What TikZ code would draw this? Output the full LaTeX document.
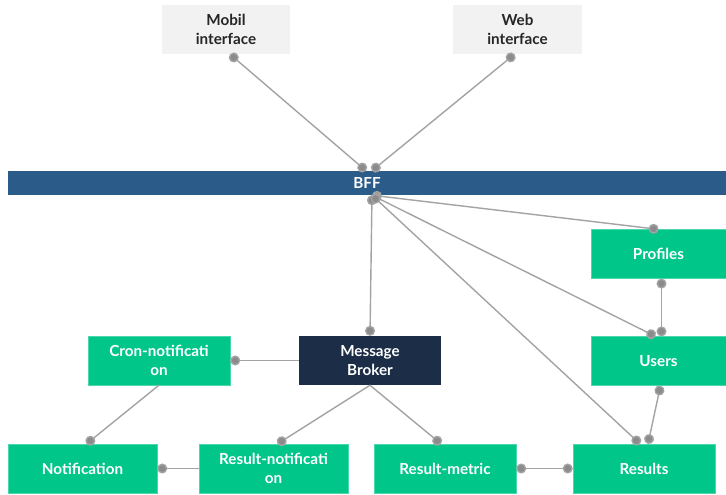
\documentclass[tikz,border=0pt]{standalone}
\usepackage{fontspec}
\setmainfont{Lato}
\usepackage{xcolor}
\usepackage{tikz}
\usetikzlibrary{positioning, calc, arrows.meta}

\definecolor{svcgreen}{HTML}{00C68A}
\definecolor{brokerblue}{HTML}{1C2E47}
\definecolor{bffblue}{HTML}{2B5B88}
\definecolor{uigray}{HTML}{F2F2F2}
\definecolor{linkgray}{HTML}{A3A3A3}

\begin{document}
\begin{tikzpicture}[x=0.03cm, y=-0.03cm,
    box/.style={rectangle, inner sep=2pt, align=center, font=\bfseries\fontsize{13}{16}\selectfont},
    client/.style={box, fill=uigray, text=black!85, minimum width=3.85cm, minimum height=1.47cm},
    service/.style={box, fill=svcgreen, draw=svcgreen!70!white, line width=0.5pt, text=white, minimum width=4.26cm, minimum height=1.46cm},
    link/.style={draw=linkgray, line width=1.2pt},
    linkdot/.tip={Circle[length=8.5pt, fill=linkgray!85!black]}]

    % Canvas
    \useasboundingbox (0,0) rectangle (726,494);

    % Front-end clients
    \node[client] (mobil) at (226,29.5) {Mobil\\interface};
    \node[client] (web) at (517.5,29.5) {Web\\interface};

    % Backend for frontend bar
    \node[box, fill=bffblue, text=white, minimum width=21.54cm, minimum height=0.72cm,
          font=\bfseries\fontsize{13}{15}\selectfont] (bff) at (367,183) {BFF};

    % Services on the right
    \node[service, minimum width=4.05cm] (profiles) at (658.5,254) {Profiles};
    \node[service, minimum width=4.05cm] (users) at (658.5,361) {Users};

    % Broker and middle row
    \node[box, fill=brokerblue, text=white, minimum width=4.26cm, minimum height=1.47cm] (broker) at (370,360.5) {Message\\Broker};
    \node[service] (cron) at (159,360.5) {Cron-notificati\\on};

    % Bottom row
    \node[service, minimum width=4.47cm] (notif) at (82.5,468.5) {Notification};
    \node[service, minimum width=4.47cm] (resnotif) at (273.5,468.5) {Result-notificati\\on};
    \node[service] (resmetric) at (445,468.5) {Result-metric};
    \node[service] (results) at (644,468.5) {Results};

    % Clients to BFF
    \draw[link, linkdot-linkdot] ($(mobil.south)+(4,0)$) -- ($(bff.north)+(-1,0)$);
    \draw[link, linkdot-linkdot] ($(web.south)+(-3,0)$) -- ($(bff.north)+(5,0)$);

    % BFF fan-out
    \draw[link, linkdot-linkdot] ($(bff.south)+(5,0)$) -- (broker.north);
    \draw[link, linkdot-linkdot] ($(bff.south)+(5,0)$) -- (profiles.north);
    \draw[link, linkdot-linkdot] ($(bff.south)+(5,0)$) -- ($(users.north)+(-3,0)$);
    \draw[link, linkdot-linkdot] ($(bff.south)+(5,0)$) -- ($(results.north)+(-4,0)$);

    % Right-hand chain
    \draw[link, linkdot-linkdot] ($(profiles.south)+(3,0)$) -- ($(users.north)+(3,0)$);
    \draw[link, linkdot-linkdot] ($(users.south)+(2,0)$) -- ($(results.north)+(4,0)$);

    % Broker consumers
    \draw[link, -linkdot] (broker.west) -- (cron.east);
    \draw[link, -linkdot] (broker.south) -- ($(resnotif.north)+(4,0)$);
    \draw[link, -linkdot] (broker.south) -- ($(resmetric.north)+(-4,0)$);

    % Notification feeds
    \draw[link, -linkdot] (cron.south) -- ($(notif.north)+(4,0)$);
    \draw[link, -linkdot] (resnotif.west) -- (notif.east);
    \draw[link, linkdot-linkdot] (resmetric.east) -- (results.west);

\end{tikzpicture}
\end{document}
